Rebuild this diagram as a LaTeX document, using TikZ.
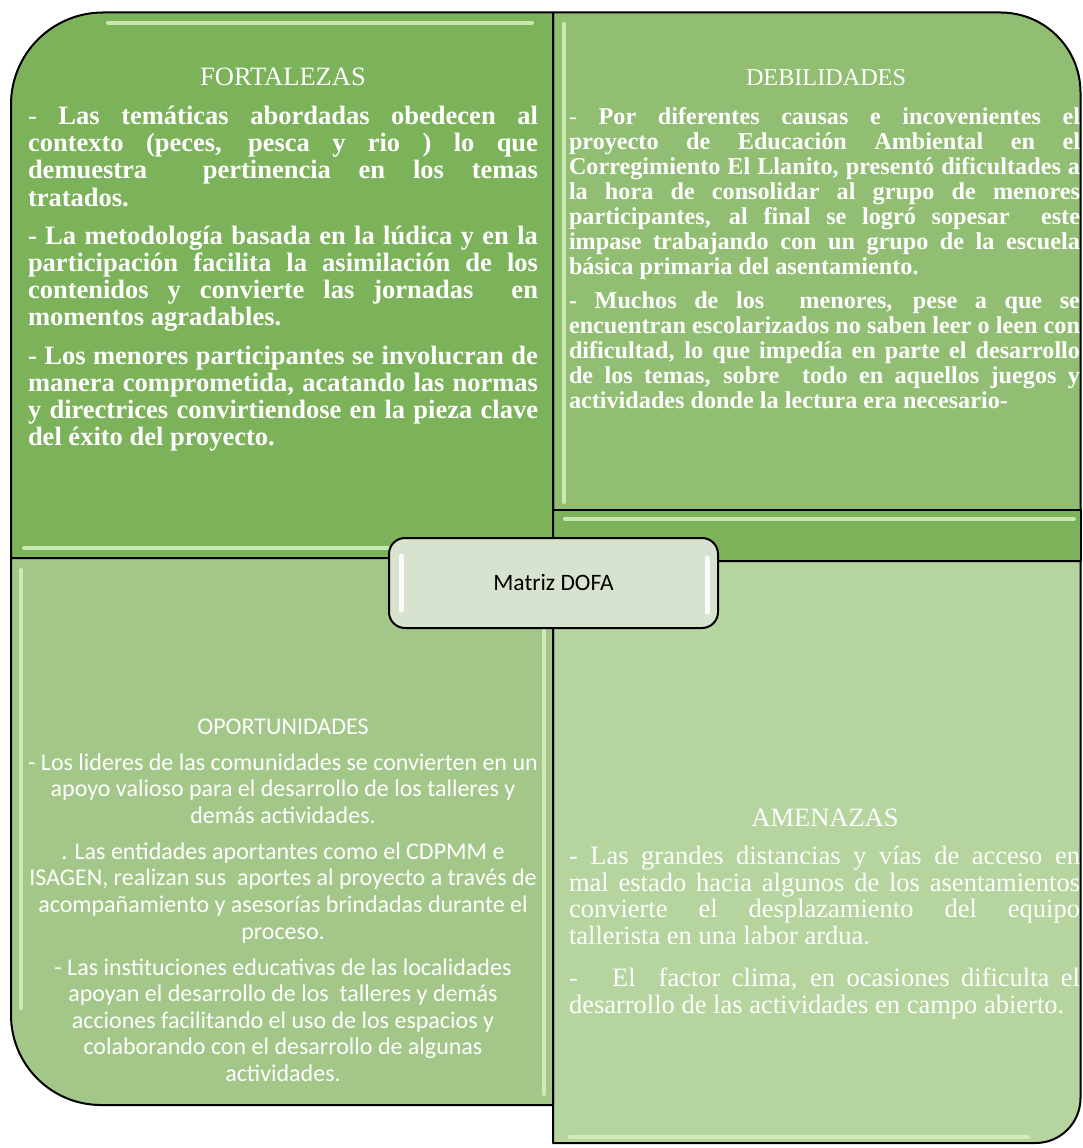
\documentclass[tikz,border=0pt]{standalone}
\usepackage{fontspec}
\setmainfont{Liberation Serif}
\newfontfamily\calfont{Carlito}
\definecolor{cFort}{RGB}{124,178,90}
\definecolor{cDeb}{RGB}{145,190,115}
\definecolor{cOpp}{RGB}{163,199,137}
\definecolor{cAmen}{RGB}{181,212,158}
\definecolor{cDofa}{RGB}{215,227,206}
\definecolor{cHl}{RGB}{214,242,190}
\newcommand{\jf}[1]{\makebox[510pt][s]{\strut #1}}
\newcommand{\jd}[1]{\makebox[511pt][s]{\strut #1}}
\newcommand{\ja}[1]{\makebox[511pt][s]{\strut #1}}
\begin{document}
\begin{tikzpicture}[x=1pt,y=-1pt,
  box/.style={draw=black,line width=2pt,line join=round},
  hl/.style={draw=cHl,line width=4pt,line cap=round,opacity=0.85},
  hlw/.style={draw=white,line width=5pt,line cap=round,opacity=0.9},
  txt/.style={inner sep=0pt,outer sep=0pt,text=white},
  fortfont/.style={font={\fontsize{26.5}{27.2}\selectfont\bfseries}},
  debfont/.style={font={\fontsize{24.2}{25}\selectfont\bfseries}},
  amenfont/.style={font={\fontsize{26.5}{26.7}\selectfont}},
  oppfont/.style={font={\calfont\fontsize{24}{26.6}\selectfont}}]
\useasboundingbox (0,0) rectangle (1082,1148);
\fill[white] (0,0) rectangle (1082,1148);

% DEBILIDADES box
\draw[box,fill=cDeb] (553,510) -- (553,12.5) -- (1000.5,12.5)
  .. controls (1044.7,12.5) and (1080.5,48.3) .. (1080.5,92.5) -- (1080.5,510) -- cycle;
% strip
\draw[box,fill=cFort] (553,510) rectangle (1080.5,561);
% AMENAZAS box
\draw[box,fill=cAmen] (553,561) -- (1080.5,561) -- (1080.5,1098)
  .. controls (1080.5,1122.9) and (1060.4,1143) .. (1035.5,1143) -- (553,1143) -- cycle;
% FORTALEZAS box
\draw[box,fill=cFort] (11,558) -- (11,104.5)
  .. controls (11,53.7) and (52.2,12.5) .. (103,12.5) -- (553,12.5) -- (553,558) -- cycle;
% OPORTUNIDADES box
\draw[box,fill=cOpp] (11,558) -- (553,558) -- (553,1105) -- (101,1105)
  .. controls (51.3,1105) and (11,1064.7) .. (11,1015) -- cycle;

% bevel highlights
\draw[hl] (108,23) -- (532,23);
\draw[hl] (24,548) -- (540,548);
\draw[hl] (564,24) -- (564,502);
\draw[hl] (565,519) -- (1074,519);
\draw[hl] (21,570) -- (21,1008);
\draw[hl] (544,570) -- (544,1094);
\draw[hl] (570,1137) -- (1028,1137);

% texts
\node[txt,fortfont,anchor=base,font={\fontsize{26.5}{27.2}\selectfont}] (ftitle) at (283,85.8) {FORTALEZAS};
\node[txt,fortfont,anchor=north west,align=left] (fbody) at (28,105.5) {%
\jf{{\mdseries -} Las temáticas abordadas obedecen al}\\
\jf{contexto (peces, pesca y rio ) lo que}\\
\jf{demuestra\ \ pertinencia en los temas}\\
\strut tratados.\\[11pt]
\jf{- La metodología basada en la lúdica y en la}\\
\jf{participación facilita la asimilación de los}\\
\jf{contenidos y convierte las jornadas\ \ en}\\
\strut momentos agradables.\\[11pt]
\jf{- Los menores participantes se involucran de}\\
\jf{manera comprometida, acatando las normas}\\
\jf{y directrices convirtiendose en la pieza clave}\\
\strut del éxito del proyecto.};

\node[txt,anchor=base,font={\fontsize{24.2}{25}\selectfont}] (dtitle) at (826,85) {DEBILIDADES};
\node[txt,debfont,anchor=north west,align=left] (dbody) at (569,106.5) {%
\jd{{\mdseries -} Por diferentes causas e incovenientes el}\\
\jd{proyecto de Educación Ambiental en el}\\
\jd{Corregimiento El Llanito, presentó dificultades a}\\
\jd{la hora de consolidar al grupo de menores}\\
\jd{participantes, al final se logró sopesar\ \ este}\\
\jd{impase trabajando con un grupo de la escuela}\\
\strut básica primaria del asentamiento.\\[9pt]
\jd{- Muchos de los\ \ menores, pese a que se}\\
\jd{encuentran escolarizados no saben leer o leen con}\\
\jd{dificultad, lo que impedía en parte el desarrollo}\\
\jd{de los temas, sobre\ \ todo en aquellos juegos y}\\
\strut actividades donde la lectura era necesario-};

\node[txt,oppfont,anchor=base] (otitle) at (283,734.7) {OPORTUNIDADES};
\node[txt,oppfont,anchor=north,align=center] (obody) at (283,751.4) {%
\strut - Los lideres de las comunidades se convierten en un\\
\strut apoyo valioso para el desarrollo de los talleres y\\
\strut demás actividades.\\[9.4pt]
\strut . Las entidades aportantes como el CDPMM e\\
\strut ISAGEN, realizan sus\ \ aportes al proyecto a través de\\
\strut acompañamiento y asesorías brindadas durante el\\
\strut proceso.\\[9.4pt]
\strut - Las instituciones educativas de las localidades\\
\strut apoyan el desarrollo de los\ \ talleres y demás\\
\strut acciones facilitando el uso de los espacios y\\
\strut colaborando con el desarrollo de algunas\\
\strut actividades.};

\node[txt,amenfont,anchor=base] (atitle) at (825,826.8) {AMENAZAS};
\node[txt,amenfont,anchor=north west,align=left] (abody) at (569,845.8) {%
\ja{- Las grandes distancias y vías de acceso en}\\
\ja{mal estado hacia algunos de los asentamientos}\\
\ja{convierte el desplazamiento del equipo}\\
\strut tallerista en una labor ardua.\\[15.3pt]
\ja{-\ \ \ El\ \ factor clima, en ocasiones dificulta el}\\
\strut desarrollo de las actividades en campo abierto.};

% central box
\draw[box,fill=cDofa,rounded corners=16pt] (389,538) rectangle (718,628);
\draw[hlw] (401,556) -- (401,610);
\draw[hlw] (707,558) -- (707,612);
\node[inner sep=0pt,text=black,anchor=base,font={\calfont\fontsize{23.5}{28}\selectfont}] (dofa) at (553.5,590) {Matriz DOFA};
\end{tikzpicture}
\end{document}
